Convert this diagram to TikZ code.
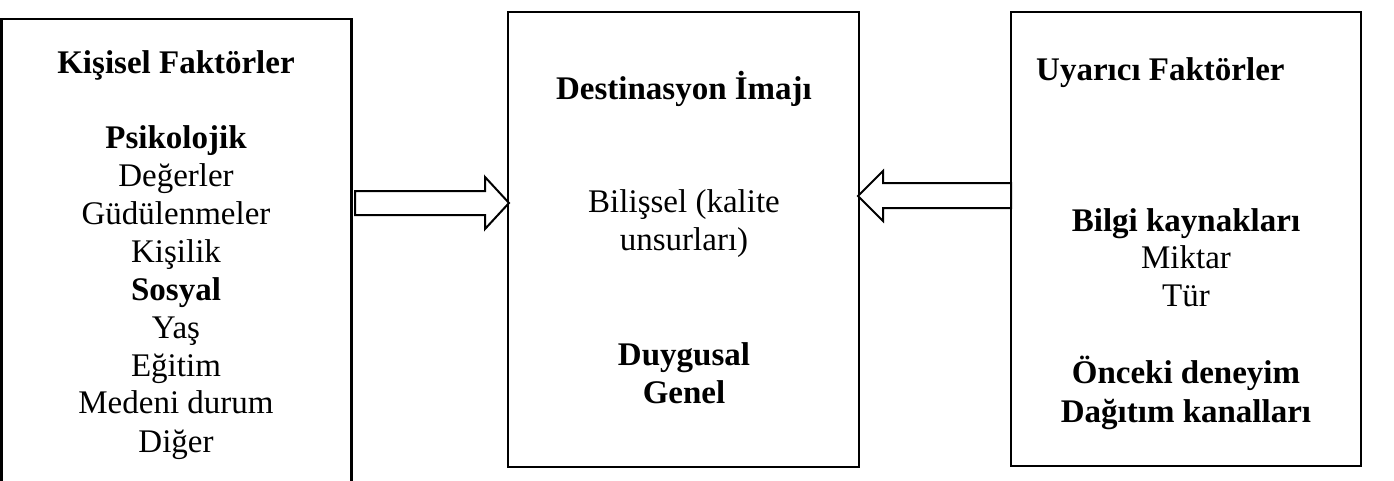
\documentclass[tikz,border=0pt]{standalone}
\usepackage{fontspec}
\setmainfont{Liberation Serif}
\begin{document}
\begin{tikzpicture}[x=1pt,y=-1pt,
  box/.style={draw, line width=2.5pt, rectangle, inner sep=0pt},
  txt/.style={anchor=base, inner sep=0pt, font=\fontsize{33}{38}\selectfont},
  btxt/.style={txt, font=\fontsize{33}{38}\selectfont\bfseries},
  fatarrow/.style={draw, line width=2pt, line join=miter, fill=white}]
\useasboundingbox (0,0) rectangle (1394,480);
\clip (0,0) rectangle (1394,480);
% boxes
\node[box, minimum width=350pt, minimum height=466pt] (L) at (176.5,252) {};
\node[box, minimum width=351pt, minimum height=455pt] (M) at (683.5,239.5) {};
\node[box, minimum width=350pt, minimum height=454pt] (R) at (1186,239) {};
% left box text
\node[btxt] (l1) at (176,73) {Kişisel Faktörler};
\node[btxt] (l2) at (176,148) {Psikolojik};
\node[txt] (l3) at (176,186) {Değerler};
\node[txt] (l4) at (176,224) {Güdülenmeler};
\node[txt] (l5) at (176,262) {Kişilik};
\node[btxt] (l6) at (176,300) {Sosyal};
\node[txt] (l7) at (176,338) {Yaş};
\node[txt] (l8) at (176,376) {Eğitim};
\node[txt] (l9) at (176,413) {Medeni durum};
\node[txt] (l10) at (176,452) {Diğer};
% middle box text
\node[btxt] (m1) at (684,99) {Destinasyon İmajı};
\node[txt] (m2) at (684,212) {Bilişsel (kalite};
\node[txt] (m3) at (684,250) {unsurları)};
\node[btxt] (m4) at (684,365) {Duygusal};
\node[btxt] (m5) at (684,403) {Genel};
% right box text
\node[btxt, anchor=base west] (r1) at (1036,80) {Uyarıcı Faktörler};
\node[btxt] (r2) at (1186,231) {Bilgi kaynakları};
\node[txt] (r3) at (1186,268) {Miktar};
\node[txt] (r4) at (1186,306) {Tür};
\node[btxt] (r5) at (1186,383) {Önceki deneyim};
\node[btxt] (r6) at (1186,422) {Dağıtım kanalları};
% arrows
\draw[fatarrow] (355,191) -- (485,191) -- (485,177) -- (509,203) -- (485,229) -- (485,215) -- (355,215) -- cycle;
\draw[fatarrow] (1011,183) -- (883,183) -- (883,171) -- (858,196) -- (883,221) -- (883,208) -- (1011,208) -- cycle;
\end{tikzpicture}
\end{document}
